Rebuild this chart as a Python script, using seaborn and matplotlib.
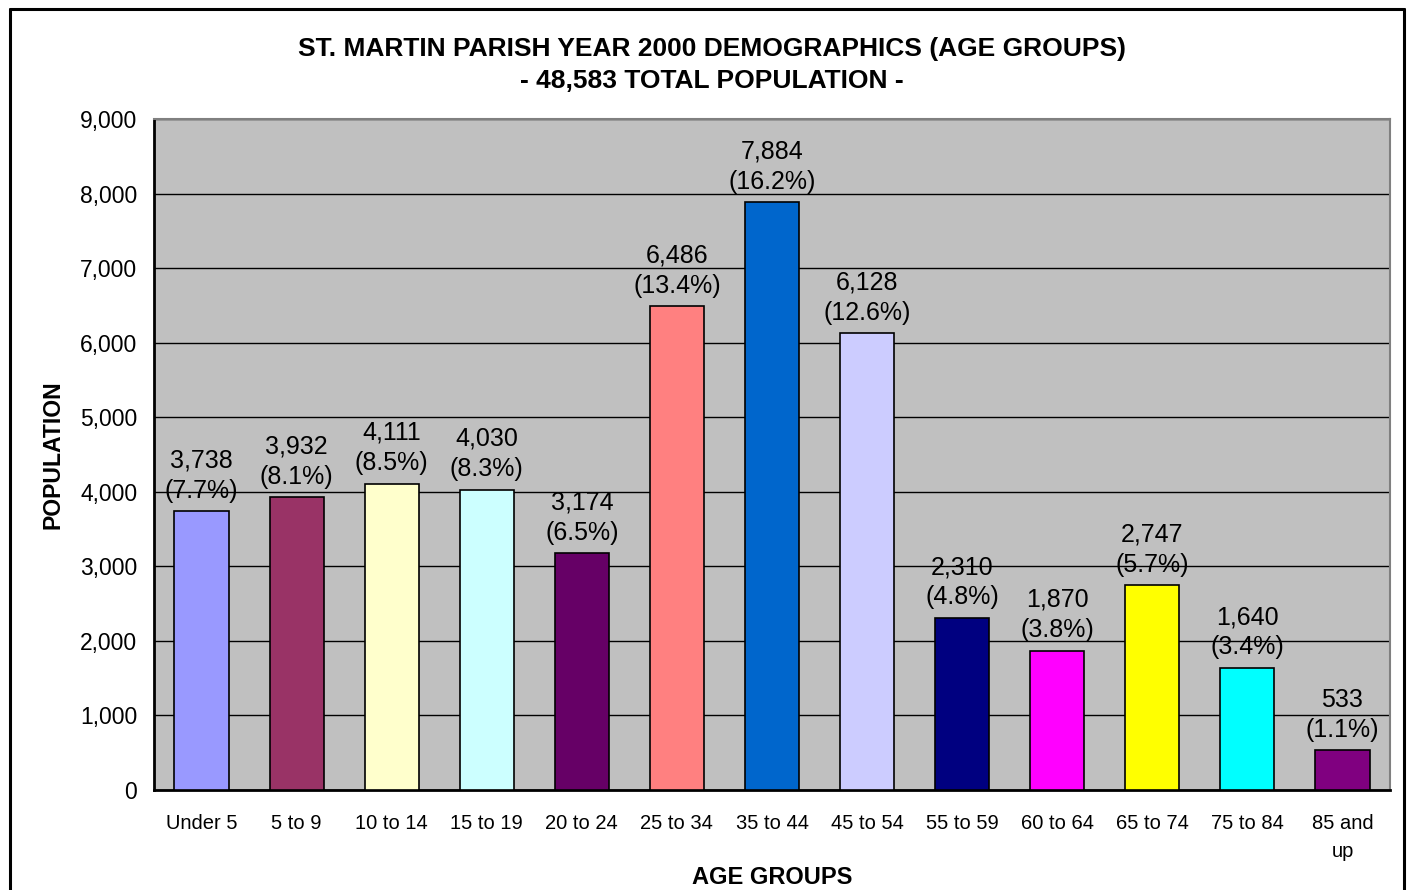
import pandas as pd
import matplotlib.pyplot as plt
import seaborn as sns
from matplotlib.lines import Line2D

# data
age_groups = ['Under 5', '5 to 9', '10 to 14', '15 to 19', '20 to 24', '25 to 34',
              '35 to 44', '45 to 54', '55 to 59', '60 to 64', '65 to 74', '75 to 84',
              '85 and\nup']
population = [3738, 3932, 4111, 4030, 3174, 6486, 7884, 6128, 2310, 1870, 2747, 1640, 533]
percent = [7.7, 8.1, 8.5, 8.3, 6.5, 13.4, 16.2, 12.6, 4.8, 3.8, 5.7, 3.4, 1.1]
bar_colors = ['#9999FF', '#993366', '#FFFFCC', '#CCFFFF', '#660066', '#FF8080',
              '#0066CC', '#CCCCFF', '#000080', '#FF00FF', '#FFFF00', '#00FFFF', '#800080']
y_ticks = list(range(0, 9001, 1000))

df = pd.DataFrame({'age': age_groups, 'pop': population, 'pct': percent})

sns.set_style('white')
plt.rcParams['font.family'] = ['Liberation Sans', 'DejaVu Sans']
plt.rcParams['text.color'] = 'black'
plt.rcParams['axes.labelcolor'] = 'black'
plt.rcParams['xtick.color'] = 'black'
plt.rcParams['ytick.color'] = 'black'

fig = plt.figure(figsize=(14.12, 8.90), dpi=100)
ax = fig.add_axes([154 / 1412, 1 - 790 / 890, (1390 - 154) / 1412, (790 - 119) / 890])
ax.set_facecolor('#C0C0C0')

sns.barplot(data=df, x='age', y='pop', hue='age', palette=bar_colors, legend=False,
            saturation=1, width=0.57, edgecolor='black', linewidth=1.2, ax=ax, zorder=3)

ax.set_ylim(0, 9000)
ax.set_xlim(-0.5, len(age_groups) - 0.5)
ax.set_yticks(y_ticks)
ax.set_yticklabels([f'{v:,}' for v in y_ticks], fontsize=16.5)
ax.yaxis.grid(True, color='black', linewidth=1, zorder=1)
ax.set_axisbelow(True)

# x ticks between categories, labels centered on bars
ax.set_xticks([i + 0.5 for i in range(-1, len(age_groups))], minor=False)
ax.set_xticklabels([])
ax.set_xticks(range(len(age_groups)), minor=True)
ax.set_xticklabels(age_groups, minor=True, fontsize=14.5, linespacing=1.6)
ax.tick_params(axis='x', which='minor', length=0, pad=17)
ax.tick_params(axis='x', which='major', length=6, width=2, direction='out', color='black')
ax.tick_params(axis='y', length=6, width=2, direction='out', color='black', pad=6)

for s in ['left', 'bottom']:
    ax.spines[s].set_color('black')
    ax.spines[s].set_linewidth(2)
for s in ['top', 'right']:
    ax.spines[s].set_color('#808080')
    ax.spines[s].set_linewidth(1.5)

for i, (p, pc) in enumerate(zip(population, percent)):
    ax.annotate(f'{p:,}\n({pc}%)', (i, p), xytext=(0, 6), textcoords='offset points',
                ha='center', va='bottom', fontsize=18, linespacing=1.33, zorder=5)

ax.set_xlabel('AGE GROUPS', fontsize=17, fontweight='bold')
ax.xaxis.set_label_coords(0.5, (790 - 878) / 671)
ax.xaxis.label.set_va('center')
ax.set_ylabel('POPULATION', fontsize=16.6, fontweight='bold', labelpad=11)

fig.text(712 / 1412, 1 - 65 / 890,
         'ST. MARTIN PARISH YEAR 2000 DEMOGRAPHICS (AGE GROUPS)\n- 48,583 TOTAL POPULATION -',
         ha='center', va='center', fontsize=19, fontweight='bold', linespacing=1.45)

# chart outer border
bx0, bx1, by = 10 / 1412, 1404 / 1412, 1 - 9 / 890
for xs, ys in [([bx0, bx0], [-0.01, by]), ([bx1, bx1], [-0.01, by]), ([bx0, bx1], [by, by])]:
    fig.add_artist(Line2D(xs, ys, color='black', linewidth=2.2, transform=fig.transFigure))

fig.savefig('out.png', dpi=100)
